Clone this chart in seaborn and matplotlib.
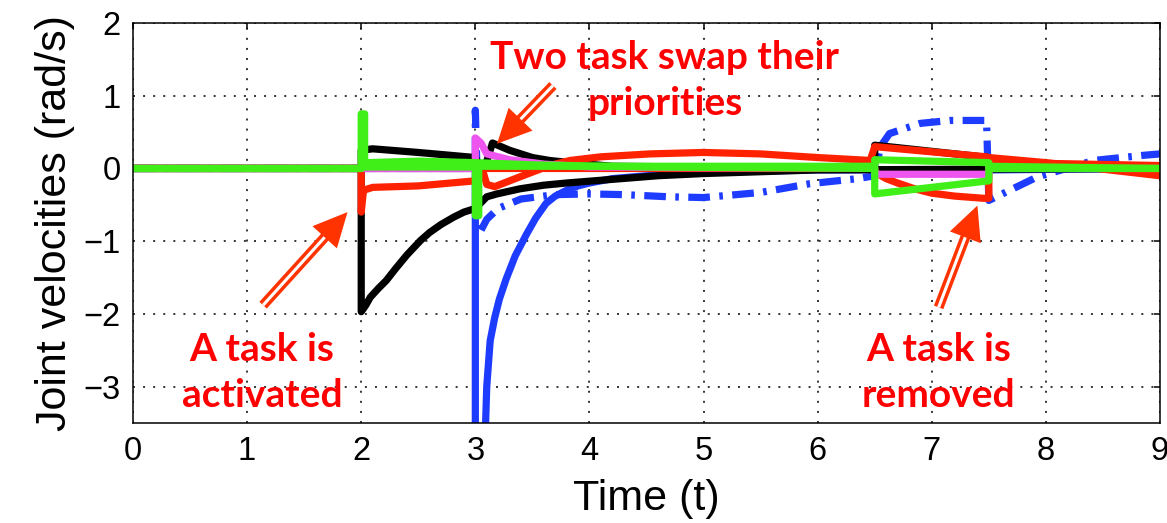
import numpy as np
import pandas as pd
import matplotlib
matplotlib.use("Agg")
import matplotlib.pyplot as plt
import seaborn as sns

# ---------------- data ----------------
x_ticks = [0, 1, 2, 3, 4, 5, 6, 7, 8, 9]
y_ticks = [-3, -2, -1, 0, 1, 2]

blue_dd_t = [0, 3.0, 3.0, 3.03, 3.05, 3.1, 3.2, 3.4, 3.7, 4.0, 4.3, 4.7, 5.0, 5.5,
             5.93, 6.35, 6.5, 6.55, 6.63, 6.9, 7.16, 7.48, 7.5, 7.71, 7.92, 8.42, 8.85, 9.0]
blue_dd_v = [0, 0, 0.8, -0.9, -0.85, -0.7, -0.55, -0.42, -0.36, -0.35, -0.36, -0.39, -0.4, -0.33,
             -0.21, -0.14, -0.1, 0.3, 0.48, 0.62, 0.66, 0.66, -0.44, -0.28, -0.12, 0.11, 0.18, 0.2]

blue_t = [0, 3.0, 3.0, 3.08, 3.1, 3.13, 3.17, 3.21, 3.27, 3.35, 3.45, 3.53, 3.62, 3.7, 3.8, 3.9,
          4.0, 4.2, 4.5, 5.0, 6.0, 6.5, 7.5, 9.0]
blue_v = [0, 0, -4.0, -4.0, -3.0, -2.37, -2.05, -1.8, -1.52, -1.2, -0.9, -0.68, -0.48, -0.38, -0.3,
          -0.24, -0.2, -0.14, -0.1, -0.05, -0.02, -0.02, -0.02, 0.0]

black_low_t = [0, 2.0, 2.0, 2.04, 2.08, 2.15, 2.22, 2.3, 2.4, 2.52, 2.6, 2.7, 2.81, 2.9, 3.0,
               3.1, 3.19, 3.39, 3.6, 3.8, 4.2, 4.6, 5.0, 6.0, 9.0]
black_low_v = [0, 0, -1.97, -1.88, -1.77, -1.65, -1.54, -1.38, -1.19, -0.99, -0.88, -0.77, -0.67,
               -0.6, -0.55, -0.39, -0.35, -0.28, -0.23, -0.2, -0.15, -0.1, -0.07, -0.02, 0.0]

black_up_t = [0, 2.0, 2.0, 2.1, 2.5, 3.0, 3.05, 3.1, 3.15, 3.3, 3.5, 3.65, 3.83, 4.2, 5.0, 6.5,
              6.5, 7.5, 7.5, 9.0]
black_up_v = [0, 0, 0.25, 0.27, 0.22, 0.15, 0.0, 0.1, 0.35, 0.25, 0.15, 0.11, 0.08, 0.03, 0.02,
              0.02, 0.32, 0.15, 0.04, 0.0]

red_a_t = [0, 2.0, 2.0, 2.02, 2.1, 2.5, 3.0, 3.02, 3.05, 3.1, 3.17, 3.35, 3.5, 3.65, 3.83, 4.1,
           4.53, 5.0, 5.5, 6.0, 6.46, 6.5, 7.48, 7.5, 8.0, 9.0]
red_a_v = [0, 0, -0.6, -0.3, -0.26, -0.24, -0.17, 0.05, 0.05, -0.22, -0.25, -0.14, -0.05, 0.04,
           0.11, 0.16, 0.2, 0.22, 0.2, 0.15, 0.11, 0.3, 0.16, 0.15, 0.08, -0.1]

red_b_t = [0, 6.5, 6.5, 6.6, 6.7, 6.85, 7.0, 7.2, 7.45, 7.5, 7.5, 8.0, 9.0]
red_b_v = [0, 0, -0.05, -0.14, -0.2, -0.28, -0.34, -0.38, -0.41, -0.41, 0.06, 0.07, 0.04]

magenta_t = [0, 3.0, 3.0, 3.05, 3.1, 3.3, 3.6, 4.0, 5.0, 6.5, 6.5, 7.5, 7.5, 9.0]
magenta_v = [0, 0, 0.42, 0.35, 0.2, 0.12, 0.06, 0.02, 0.01, 0.01, -0.08, -0.08, 0.0, 0.0]

green_a_t = [0, 2.0, 2.0, 2.03, 2.03, 3.0, 3.0, 3.03, 3.03, 6.5, 6.5, 7.5, 7.5, 9.0]
green_a_v = [0, 0, 0.75, 0.75, 0.02, 0.02, -0.65, -0.65, 0.03, 0.03, 0.12, 0.08, 0.03, 0.0]

green_b_t = [0, 2.0, 2.05, 2.5, 3.0, 3.5, 4.5, 6.5, 6.5, 7.5, 7.5, 9.0]
green_b_v = [0, 0, 0.08, 0.1, 0.08, 0.05, 0.02, 0.0, -0.35, -0.17, 0.0, 0.0]

annotations = [
    ("Two task swap their\npriorities", 4.66, 1.21),
    ("A task is\nactivated", 1.13, -2.81),
    ("A task is\nremoved", 7.06, -2.81),
]
# (tail_t, tail_v, tip_t, tip_v)
arrows = [
    (1.14, -1.88, 1.88, -0.6),
    (3.68, 1.14, 3.19, 0.34),
    (7.06, -1.91, 7.40, -0.51),
]

series = [
    ("blue_dd", blue_dd_t, blue_dd_v, "#1e3cff", (0, (3.0, 1.3, 0.5, 1.3))),
    ("blue", blue_t, blue_v, "#1e3cff", "-"),
    ("black_low", black_low_t, black_low_v, "#000000", "-"),
    ("black_up", black_up_t, black_up_v, "#000000", "-"),
    ("red_a", red_a_t, red_a_v, "#ff2200", "-"),
    ("red_b", red_b_t, red_b_v, "#ff2200", "-"),
    ("magenta", magenta_t, magenta_v, "#ee55ee", "-"),
    ("green_b", green_b_t, green_b_v, "#40ee18", "-"),
    ("green_a", green_a_t, green_a_v, "#40ee18", "-"),
]

# ---------------- figure ----------------
sns.set_theme(style="white")
plt.rcParams["font.family"] = ["Liberation Sans", "DejaVu Sans"]

W, H = 1167, 523
fig = plt.figure(figsize=(W / 100, H / 100), dpi=100)
ax = fig.add_axes([133 / W, 100 / H, (1160 - 133) / W, 400 / H])

for name, t, v, col, ls in series:
    df = pd.DataFrame({"t": t, "v": v})
    sns.lineplot(data=df, x="t", y="v", ax=ax, color=col, lw=5.2, sort=False,
                 estimator=None, linestyle=ls, solid_joinstyle="round",
                 dash_capstyle="butt", legend=False)

ax.set_xlim(0, 9)
ax.set_ylim(-3.5, 2)
ax.set_xticks(x_ticks)
ax.set_yticks(y_ticks)
ax.set_xticklabels([str(x) for x in x_ticks])
ax.set_yticklabels([str(y).replace("-", "\u2212") for y in y_ticks])
ax.grid(True, color="black", lw=1.1, linestyle=(0, (1.3, 5.3)))
ax.tick_params(direction="in", length=4, width=1.1, top=True, right=True,
               labelsize=23.5, colors="black", pad=9)
for sp in ax.spines.values():
    sp.set_visible(True)
    sp.set_color("black")
    sp.set_linewidth(1.1)
ax.set_xlabel("Time (t)", fontsize=31, color="black", labelpad=9)
ax.set_ylabel("Joint velocities (rad/s)", fontsize=31, color="black", labelpad=6)

for txt, tx, ty in annotations:
    ax.text(tx, ty, txt, ha="center", va="center", color="#ff0000", fontsize=28,
            fontweight="bold", family=["Lato", "DejaVu Sans"], linespacing=1.38,
            zorder=10)

# double-lined arrows, built in pixel space
fig.canvas.draw()
inv = ax.transData.inverted()
head_len, head_half = 34.0, 16.5
for t0, v0, t1, v1 in arrows:
    p0 = ax.transData.transform((t0, v0))
    p1 = ax.transData.transform((t1, v1))
    d = p1 - p0
    d = d / np.hypot(*d)
    n = np.array([-d[1], d[0]])
    base = p1 - d * head_len
    shaft = inv.transform(np.array([p0, base + d * 2]))
    ax.plot(shaft[:, 0], shaft[:, 1], color="#ff3300", lw=7.2,
            solid_capstyle="butt", zorder=11)
    ax.plot(shaft[:, 0], shaft[:, 1], color="white", lw=2.2,
            solid_capstyle="butt", zorder=12)
    tri = inv.transform(np.array([p1, base + n * head_half, base - n * head_half]))
    ax.fill(tri[:, 0], tri[:, 1], color="#ff3300", lw=0, zorder=13)

fig.savefig("out.png", dpi=100)
